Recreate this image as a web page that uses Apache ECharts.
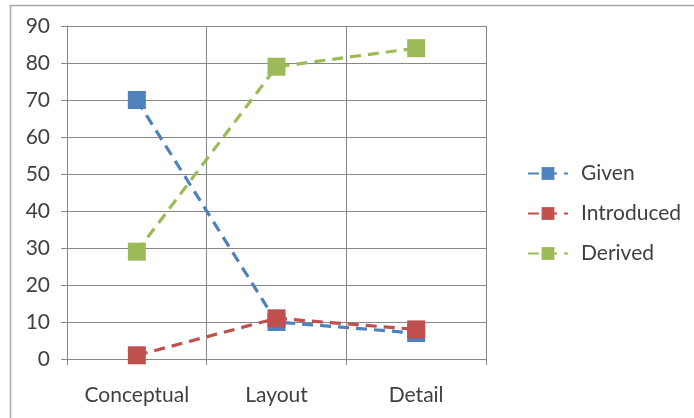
<!DOCTYPE html>
<html>
<head>
<meta charset="utf-8">
<script src="https://cdn.jsdelivr.net/npm/echarts@6/dist/echarts.min.js"></script>
<style>
  html, body { margin: 0; padding: 0; background: #fff; }
  #chart { width: 694px; height: 418px; }
</style>
</head>
<body>
<div id="chart"></div>
<script>
// Stages of the design process
const categories = ['Conceptual', 'Layout', 'Detail'];
// Share of each information type per stage
const given = [70, 10, 7];
const introduced = [1, 11, 8];
const derived = [29, 79, 84];
const yTicks = { min: 0, max: 90, interval: 10 };

const gridColor = '#878787';
const textColor = '#404040';
const fontFamily = 'Lato, "Open Sans", sans-serif';
const fontSize = 21;

function lineSeries(name, data, color) {
  return {
    name: name,
    type: 'line',
    data: data,
    symbol: 'rect',
    symbolSize: 18,
    itemStyle: { color: color },
    lineStyle: { color: color, width: 3.2, type: [11, 7] },
    emphasis: { disabled: true },
    animation: false
  };
}

const chart = echarts.init(document.getElementById('chart'), null, { renderer: 'canvas' });
chart.setOption({
  backgroundColor: '#fff',
  animation: false,
  graphic: [{
    type: 'rect',
    shape: { x: 10.5, y: 5.5, width: 720, height: 440 },
    style: { fill: 'none', stroke: '#a6a6a6', lineWidth: 1.5 },
    silent: true,
    z: -1
  }],
  grid: { left: 67, right: 208, top: 26, bottom: 59, containLabel: false },
  legend: {
    orient: 'vertical',
    left: 522,
    top: 158,
    itemWidth: 40,
    itemHeight: 16,
    itemGap: 19,
    data: ['Given', 'Introduced', 'Derived'],
    textStyle: { fontSize: fontSize, color: textColor, fontFamily: fontFamily, padding: [0, 0, 0, 8] }
  },
  xAxis: {
    type: 'category',
    data: categories,
    boundaryGap: true,
    axisLine: { lineStyle: { color: gridColor, width: 1 } },
    axisTick: { show: true, length: 6, lineStyle: { color: gridColor } },
    axisLabel: { fontSize: fontSize, color: textColor, fontFamily: fontFamily, margin: 26 },
    splitLine: { show: true, lineStyle: { color: gridColor, width: 1 } }
  },
  yAxis: {
    type: 'value',
    min: yTicks.min,
    max: yTicks.max,
    interval: yTicks.interval,
    axisLine: { show: true, lineStyle: { color: gridColor, width: 1 } },
    axisTick: { show: true, length: 6, lineStyle: { color: gridColor } },
    axisLabel: { fontSize: fontSize, color: textColor, fontFamily: fontFamily, margin: 17 },
    splitLine: { show: true, lineStyle: { color: gridColor, width: 1 } }
  },
  series: [
    lineSeries('Given', given, '#4F81BD'),
    lineSeries('Introduced', introduced, '#C0504D'),
    lineSeries('Derived', derived, '#9BBB59')
  ]
});
</script>
</body>
</html>
